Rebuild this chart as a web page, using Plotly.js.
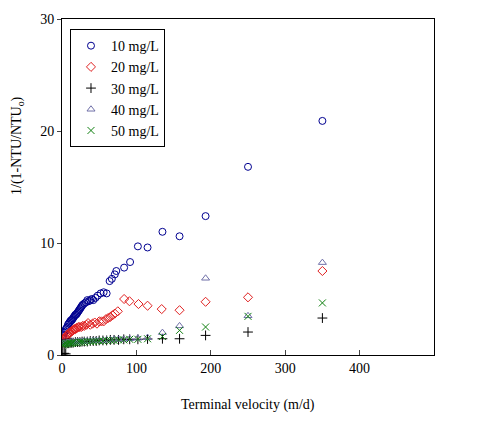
<!DOCTYPE html>
<html><head><meta charset="utf-8">
<script src="https://cdn.plot.ly/plotly-3.0.1.min.js"></script>
<style>body{margin:0;background:#fff}#chart{width:490px;height:433px}</style>
</head><body><div id="chart"></div>
<script>
// Series: 10 mg/L
const x10 = [0.5,1,2,3,4,5,6,7,8,9,10,11,12,13,14,15,16,17,18,19,20,21,22,23,24,25,26,27,28,30,32,34,36,38,40,42,45,48,52,56,60,64,67,71,73,83.5,91.5,102,115,135,158,193,250,350];
const y10 = [1.5,1.7,1.8,2.0,2.1,2.3,2.4,2.5,2.7,2.8,2.9,3.0,3.1,3.1,3.2,3.3,3.4,3.5,3.6,3.6,3.7,3.8,3.9,4.0,4.1,4.2,4.3,4.4,4.5,4.6,4.7,4.9,4.8,4.9,5.0,4.9,5.1,5.3,5.5,5.6,5.5,6.6,6.8,7.2,7.5,7.8,8.3,9.7,9.6,11.0,10.6,12.4,16.8,20.9];
// Series: 20 mg/L
const x20 = [0.5,1,2,3,4,5,6,7,8,9,10,11,12,13,14,15,16,17,18,19,20,22,24,26,28,30,33,35,38,41,44,47,50,53,56,59,62,65,68,71,75,83.5,90.7,102.8,115,134,158,193,250,350];
const y20 = [1.1,1.2,1.3,1.4,1.5,1.6,1.7,1.8,1.8,1.9,2.0,2.0,2.1,2.1,2.2,2.2,2.3,2.3,2.3,2.4,2.4,2.5,2.5,2.5,2.6,2.6,2.7,2.85,2.7,2.8,2.9,2.8,3.0,3.0,3.0,3.2,3.3,3.4,3.55,3.7,3.9,5.0,4.8,4.55,4.4,4.1,4.0,4.75,5.15,7.5];
// Series: 30 mg/L
const x30 = [1,3,5,1,3,5,7,9,11,13,15,18,21,24,27,30,34,38,42,46,50,55,60,65,70,76,83,91,102,115,135,158,193,250,350];
const y30 = [0.1,0.15,0.1,0.95,1.0,1.0,1.05,1.05,1.1,1.1,1.1,1.15,1.15,1.15,1.2,1.2,1.2,1.25,1.25,1.25,1.3,1.3,1.3,1.35,1.35,1.35,1.4,1.4,1.4,1.43,1.45,1.45,1.75,2.05,3.3];
// Series: 40 mg/L
const x40 = [1,3,5,7,9,11,13,15,18,21,24,27,30,34,38,42,46,50,55,60,65,70,76,83,91,102,115,135,158,193,250,350];
const y40 = [1.0,1.05,1.05,1.1,1.1,1.1,1.15,1.15,1.15,1.2,1.2,1.2,1.25,1.25,1.25,1.3,1.3,1.3,1.3,1.35,1.35,1.4,1.4,1.4,1.45,1.5,1.55,2.0,2.6,6.85,3.5,8.25];
// Series: 50 mg/L
const x50 = [1,3,5,7,9,11,13,15,18,21,24,27,30,34,38,42,46,50,55,60,65,70,76,83,91,102,115,135,158,193,250,350];
const y50 = [0.9,0.95,1.0,1.0,1.05,1.05,1.05,1.1,1.1,1.1,1.15,1.15,1.15,1.2,1.2,1.2,1.25,1.25,1.25,1.3,1.3,1.3,1.35,1.35,1.4,1.4,1.45,1.65,2.2,2.5,3.45,4.65];

const names = ['10 mg/L','20 mg/L','30 mg/L','40 mg/L','50 mg/L'];
const xTicks = [0,100,200,300,400];
const yTicks = [0,10,20,30];

const serif = '"Liberation Serif", serif';
function tr(x,y,name,symbol,color,size){
  return {x:x,y:y,name:name,type:'scatter',mode:'markers',
    marker:{symbol:symbol,size:size,color:color,line:{width:1,color:color}}};
}
const data = [
  tr(x10,y10,names[0],'circle-open','#000090',7),
  tr(x20,y20,names[1],'diamond-open','#e02020',7),
  tr(x30,y30,names[2],'cross-thin-open','#000000',7),
  tr(x40,y40,names[3],'triangle-up-open','#7070a8',7),
  tr(x50,y50,names[4],'x-thin-open','#108010',7)
];
const layout = {
  width:490,height:433,
  margin:{l:62,r:56,t:19,b:78},
  paper_bgcolor:'#fff',plot_bgcolor:'#fff',
  font:{family:serif,size:12,color:'#000'},
  showlegend:true,
  legend:{x:0.0215,y:0.97,xanchor:'left',yanchor:'top',bgcolor:'#fff',
    bordercolor:'#000',borderwidth:1,font:{family:serif,size:14,color:'#000'},
    tracegroupgap:0,itemwidth:30},
  xaxis:{range:[0,500],tickvals:xTicks,ticktext:xTicks.map(String),ticks:'inside',ticklen:5,
    showline:true,linecolor:'#000',linewidth:1,mirror:true,showgrid:false,zeroline:false,
    tickfont:{family:serif,size:14}},
  yaxis:{range:[0,30],tickvals:yTicks,ticktext:yTicks.map(String),ticks:'outside',ticklen:4,
    showline:true,linecolor:'#000',linewidth:1,mirror:true,showgrid:false,zeroline:false,
    tickfont:{family:serif,size:14}},
  annotations:[
    {text:'Terminal velocity (m/d)',xref:'paper',yref:'paper',x:0.5,y:-0.149,
     xanchor:'center',yanchor:'middle',showarrow:false,font:{family:serif,size:14}},
    {text:'1/(1-NTU/NTU<sub>o</sub>)',xref:'paper',yref:'paper',x:-0.121,y:0.625,
     xanchor:'center',yanchor:'middle',textangle:-90,showarrow:false,font:{family:serif,size:14}}
  ]
};
Plotly.newPlot('chart',data,layout,{displayModeBar:false,staticPlot:true});
</script></body></html>
